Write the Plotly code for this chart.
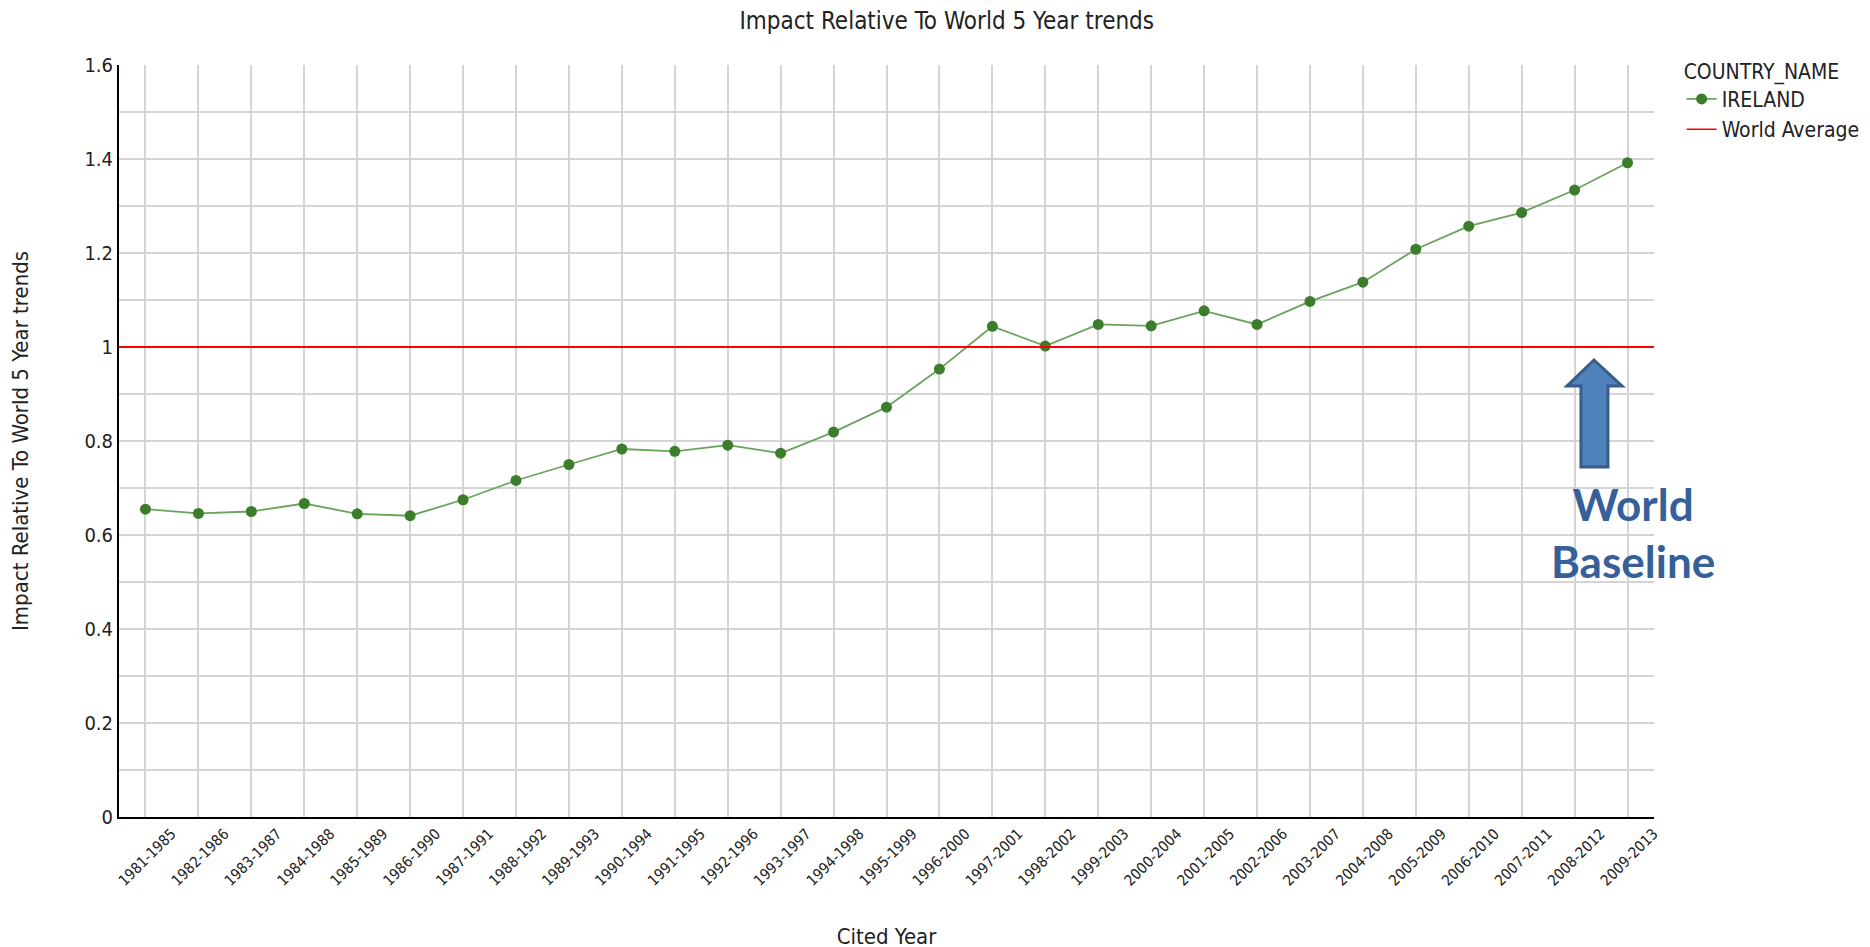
import plotly.graph_objects as go

# Data
periods = [
    "1981-1985", "1982-1986", "1983-1987", "1984-1988", "1985-1989", "1986-1990",
    "1987-1991", "1988-1992", "1989-1993", "1990-1994", "1991-1995", "1992-1996",
    "1993-1997", "1994-1998", "1995-1999", "1996-2000", "1997-2001", "1998-2002",
    "1999-2003", "2000-2004", "2001-2005", "2002-2006", "2003-2007", "2004-2008",
    "2005-2009", "2006-2010", "2007-2011", "2008-2012", "2009-2013",
]
ireland = [
    0.655, 0.646, 0.650, 0.667, 0.645, 0.641, 0.675, 0.716, 0.750, 0.783,
    0.778, 0.791, 0.774, 0.819, 0.872, 0.953, 1.044, 1.002, 1.048, 1.045,
    1.077, 1.048, 1.097, 1.138, 1.208, 1.257, 1.286, 1.334, 1.392,
]
world_average = 1.0

FONT = "DejaVu Sans Condensed, sans-serif"
GRID = "#d4d4d4"

# figure size and margins (page body adds an 8px offset)
W, H = 1870, 947
L, R, T, B = 111, 224, 57, 138
OFFSET = 8


def to_paper(px, py):
    # screen pixels -> paper coordinates, only for the decorative arrow/label
    fx, fy = px - OFFSET, py - OFFSET
    return (fx - L) / (W - L - R), (H - B - fy) / (H - T - B)


arrow_px = [(1594, 360), (1622, 386), (1608, 386), (1608, 467),
            (1581, 467), (1581, 386), (1567, 386)]
arrow_path = "M " + " L ".join(f"{x:.4f},{y:.4f}" for x, y in (to_paper(*p) for p in arrow_px)) + " Z"

fig = go.Figure()
fig.add_trace(go.Scatter(
    x=periods,
    y=ireland,
    mode="lines+markers",
    name="IRELAND",
    line=dict(color="#6aa35c", width=1.8),
    marker=dict(color="#3b7d2b", size=11),
))
# legend entry for the reference line
fig.add_trace(go.Scatter(
    x=[None], y=[None], mode="lines", name="World Average",
    line=dict(color="#ff0000", width=1.5),
))
fig.add_hline(y=world_average, line=dict(color="#ff0000", width=2), layer="above")

fig.add_shape(type="path", path=arrow_path, xref="paper", yref="paper",
              fillcolor="#4f81bd", line=dict(color="#385d8a", width=3))
fig.add_annotation(
    x=to_paper(1633, 0)[0], y=to_paper(0, 532)[1], xref="paper", yref="paper",
    text="<b>World<br>Baseline</b>", showarrow=False,
    font=dict(family="Lato, Open Sans, sans-serif", size=44, color="#35609a"),
    xanchor="center", yanchor="middle", align="center",
)

fig.update_layout(
    width=W,
    height=H,
    template="plotly_white",
    plot_bgcolor="white",
    paper_bgcolor="white",
    font=dict(family=FONT, size=20, color="#222222"),
    title=dict(text="Impact Relative To World 5 Year trends", x=0.502, xanchor="center",
               y=0.987, yanchor="middle", font=dict(size=24, color="#222222")),
    margin=dict(l=L, r=R, t=T, b=B, autoexpand=False),
    legend=dict(
        title=dict(text="COUNTRY_NAME", font=dict(size=21)),
        x=1.018, y=1.018, xanchor="left", yanchor="top",
        font=dict(size=21, color="#222222"),
        bgcolor="rgba(0,0,0,0)", tracegroupgap=0,
    ),
    showlegend=True,
)
fig.update_xaxes(
    type="category",
    range=[-0.5, len(periods) - 0.5],
    tickangle=-45,
    ticklabelshift=26,
    showgrid=True, gridcolor=GRID, gridwidth=2,
    showline=True, linecolor="black", linewidth=2,
    ticks="", zeroline=False, automargin=False,
    tickfont=dict(size=15),
    title=dict(text="Cited Year", font=dict(size=22), standoff=40),
)
fig.update_yaxes(
    range=[0, 1.6],
    dtick=0.2,
    showgrid=True, gridcolor=GRID, gridwidth=2,
    minor=dict(dtick=0.1, showgrid=True, gridcolor=GRID, gridwidth=2),
    showline=True, linecolor="black", linewidth=2,
    ticks="", zeroline=False, automargin=False,
    tickfont=dict(size=20),
    title=dict(text="Impact Relative To World 5 Year trends", font=dict(size=22), standoff=50),
)

fig.write_html("out.html")
